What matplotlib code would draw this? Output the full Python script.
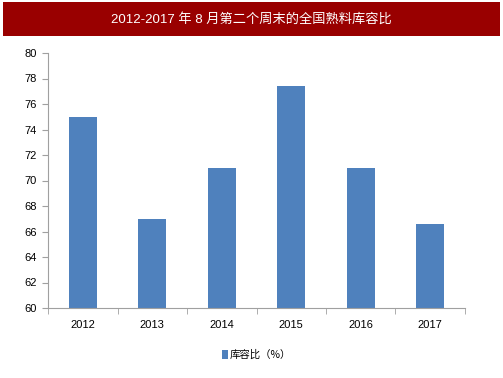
import matplotlib
matplotlib.use('Agg')
import matplotlib.pyplot as plt
from matplotlib.patches import Rectangle

years = ['2012', '2013', '2014', '2015', '2016', '2017']
ratio = [75.0, 67.0, 71.0, 77.45, 70.95, 66.55]
yticks = list(range(60, 81, 2))

plt.rcParams['font.family'] = ['Liberation Sans', 'Noto Sans CJK SC', 'DejaVu Sans']

fig = plt.figure(figsize=(5.03, 3.78), dpi=100)

# title banner
fig.patches.append(Rectangle((3 / 503, 1 - 36 / 378), 497 / 503, 34 / 378,
                             transform=fig.transFigure, facecolor='#990000',
                             edgecolor='none', zorder=0))
fig.text(0.5, 1 - 19 / 378, '2012-2017 年 8 月第二个周末的全国熟料库容比',
         ha='center', va='center', color='white', fontsize=9.5,
         family=['Liberation Sans', 'Noto Sans CJK SC'])

ax = fig.add_axes((48.2 / 503, 1 - 308 / 378, 416.6 / 503, 255 / 378))
x = range(len(years))
ax.bar(x, [v - 60 for v in ratio], bottom=60, width=0.4, color='#4f81bd',
       label='库容比（%）')

ax.set_xlim(-0.5, len(years) - 0.5)
ax.set_ylim(60, 80)
ax.set_yticks(yticks)
ax.set_xticks(list(x))
ax.set_xticklabels(years)
ax.set_xticks([i + 0.5 for i in range(-1, len(years))], minor=True)
ax.tick_params(axis='x', which='major', length=0, pad=9, labelsize=8)
ax.tick_params(axis='x', which='minor', length=4, color='#a0a0a0', direction='out')
ax.tick_params(axis='y', length=4, color='#a0a0a0', labelsize=8, pad=4)

for side in ('top', 'right'):
    ax.spines[side].set_visible(False)
for side in ('left', 'bottom'):
    ax.spines[side].set_color('#a0a0a0')

ax.legend(loc='center', bbox_to_anchor=(0.5, (1 - 355 / 378 - (1 - 308 / 378)) / (255 / 378)),
          frameon=False, handlelength=0.6, handleheight=1.0, handletextpad=0.2,
          prop={'family': ['Noto Sans CJK SC'], 'size': 7.5})

fig.savefig('out.png', dpi=100)
